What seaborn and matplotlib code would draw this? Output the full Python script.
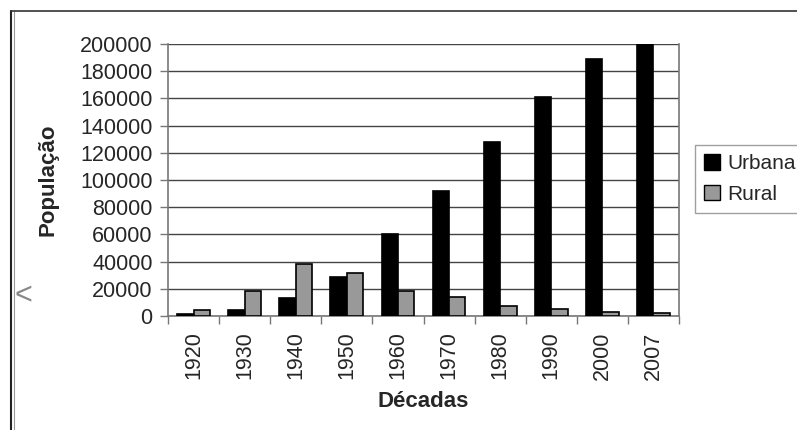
import pandas as pd
import matplotlib
matplotlib.use('Agg')
import matplotlib.pyplot as plt
import seaborn as sns
from matplotlib.lines import Line2D
from matplotlib.ticker import FixedLocator

# --- data ---
decadas = ['1920', '1930', '1940', '1950', '1960', '1970', '1980', '1990', '2000', '2007']
urbana = [1200, 4600, 13000, 28700, 60300, 91700, 128200, 161300, 188700, 201000]
rural = [4200, 18400, 38500, 31900, 18400, 13700, 7600, 5400, 3200, 2000]
series = ['Urbana', 'Rural']
yticks = list(range(0, 200001, 20000))

df = pd.DataFrame({
    'Décadas': decadas * 2,
    'População': urbana + rural,
    'Tipo': ['Urbana'] * len(decadas) + ['Rural'] * len(decadas),
})

sns.set_style('white')
plt.rcParams['font.family'] = ['Liberation Sans', 'DejaVu Sans']

fig = plt.figure(figsize=(7.97, 4.30), dpi=100)
ax = fig.add_axes([168 / 797, 1 - 316 / 430, 511 / 797, 272 / 430])

sns.barplot(data=df, x='Décadas', y='População', hue='Tipo', order=decadas,
            hue_order=series, palette={'Urbana': 'black', 'Rural': '#999999'},
            edgecolor='black', linewidth=1.2, width=0.64, gap=0,
            errorbar=None, ax=ax, zorder=3)

ax.set_ylim(0, 200000)
ax.set_xlim(-0.5, len(decadas) - 0.5)
ax.set_yticks(yticks)
ax.set_yticklabels([str(t) for t in yticks], fontsize=15.5)
ax.yaxis.grid(True, color='#444444', linewidth=1, zorder=0)
ax.set_axisbelow(True)

# x tick marks sit on the category boundaries
ax.tick_params(axis='x', which='major', length=0, labelsize=15.5, labelrotation=90, pad=11)
ax.xaxis.set_minor_locator(FixedLocator([i - 0.5 for i in range(len(decadas) + 1)]))
ax.tick_params(axis='x', which='minor', length=6, width=1, color='#777777', direction='out', bottom=True)
ax.tick_params(axis='y', length=6, width=1, color='#777777', direction='out', left=True, pad=5)

for side in ['left', 'bottom', 'right']:
    ax.spines[side].set_color('#777777')
    ax.spines[side].set_linewidth(1.2)
ax.spines['top'].set_visible(False)

ax.set_xlabel('Décadas', fontsize=16, fontweight='bold', va='center')
ax.xaxis.set_label_coords(0.5, -0.316)
ax.set_ylabel('População', fontsize=16, fontweight='bold', va='center')
ax.yaxis.set_label_coords(-0.235, 0.5)

# legend runs against the right edge, as in the screenshot
ax.get_legend().remove()
handles = [plt.Rectangle((0, 0), 1, 1, facecolor='black', edgecolor='black'),
           plt.Rectangle((0, 0), 1, 1, facecolor='#999999', edgecolor='black')]
fig.legend(handles, series, loc='upper left', bbox_to_anchor=(695 / 797, 1 - 145 / 430),
           fontsize=15, frameon=True, fancybox=False, edgecolor='#888888',
           handlelength=0.75, handleheight=0.75, handletextpad=0.35, borderpad=0.45,
           labelspacing=0.55, borderaxespad=0)

# screenshot frame
fig.add_artist(Line2D([11 / 797, 11 / 797], [0, 1 - 11 / 430], color='#222222', linewidth=1.5))
fig.add_artist(Line2D([14 / 797, 14 / 797], [0, 1 - 11 / 430], color='#999999', linewidth=0.8))
fig.add_artist(Line2D([11 / 797, 1], [1 - 11 / 430, 1 - 11 / 430], color='#333333', linewidth=1.2))
fig.text(14 / 797, 1 - 296 / 430, '<', fontsize=22, color='#888888', va='center', ha='left')

fig.savefig('out.png', dpi=100)
